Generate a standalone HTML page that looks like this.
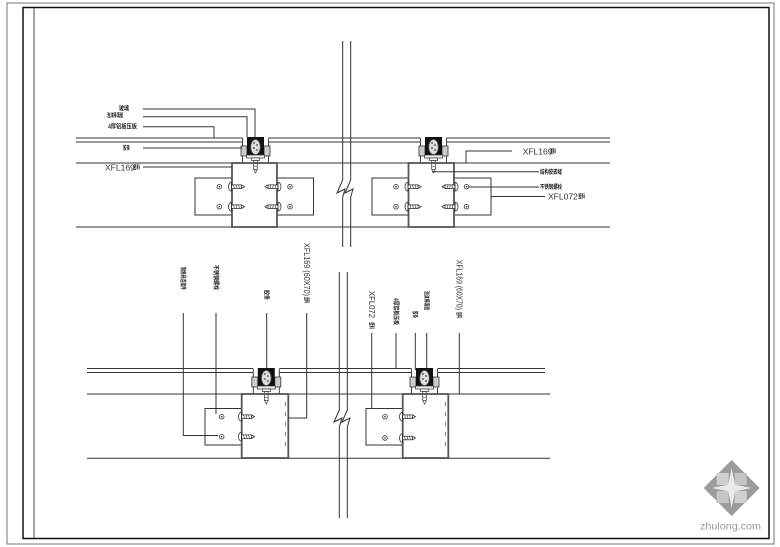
<!DOCTYPE html>
<html><head><meta charset="utf-8"><style>
html,body{margin:0;padding:0;background:#fff;}
svg{display:block;}
.l{stroke:#333;stroke-width:1;fill:none;}
.cn{font-family:"Liberation Sans","Noto Sans CJK SC",sans-serif;font-size:6px;font-weight:bold;fill:#222;}
.en{font-family:"Liberation Sans","Noto Sans CJK SC",sans-serif;font-size:8.5px;fill:#333;}
</style></head><body>
<svg width="780" height="547" viewBox="0 0 780 547" xmlns="http://www.w3.org/2000/svg">
<defs>
<g id="gk">
 <rect x="-13" y="0" width="26" height="26" fill="#fff"/>
 <line x1="-13" y1="1" x2="-13" y2="26" stroke="#444" stroke-width="1"/>
 <line x1="13" y1="1" x2="13" y2="26" stroke="#444" stroke-width="1"/>
 <rect x="-14.5" y="9" width="6" height="10" fill="#ccc" stroke="#333" stroke-width="0.8"/>
 <rect x="8.5" y="9" width="6" height="10" fill="#ccc" stroke="#333" stroke-width="0.8"/>
 <path d="M-8.5,0 H8.5 V18 H-8.5 Z" fill="#111"/>
 <ellipse cx="0" cy="10" rx="4.8" ry="7.5" fill="#ddd" stroke="#555" stroke-width="0.8"/>
 <circle cx="-1.5" cy="6" r="1" fill="#666"/><circle cx="1.5" cy="8" r="1" fill="#666"/>
 <circle cx="-1.5" cy="11" r="1" fill="#666"/><circle cx="1.5" cy="13" r="1" fill="#666"/>
 <rect x="-9" y="18" width="18" height="3" fill="#eee" stroke="#333" stroke-width="0.7"/>
 <rect x="-4" y="21" width="8" height="2.5" fill="#fff" stroke="#333" stroke-width="0.7"/>
 <rect x="-1.8" y="23.5" width="3.6" height="9" fill="#fff" stroke="#333" stroke-width="0.7"/>
 <path d="M-1.8,32.5 L0,36 L1.8,32.5" fill="none" stroke="#333" stroke-width="0.7"/>
 <line x1="-1.8" y1="26" x2="1.8" y2="27" stroke="#333" stroke-width="0.6"/>
 <line x1="-1.8" y1="29" x2="1.8" y2="30" stroke="#333" stroke-width="0.6"/>
</g>
<g id="bolt">
 <rect x="1" y="-1.8" width="10" height="3.6" fill="#fff" stroke="#333" stroke-width="0.8"/>
 <line x1="3" y1="-1.8" x2="4" y2="1.8" stroke="#333" stroke-width="0.6"/>
 <line x1="5.5" y1="-1.8" x2="6.5" y2="1.8" stroke="#333" stroke-width="0.6"/>
 <line x1="8" y1="-1.8" x2="9" y2="1.8" stroke="#333" stroke-width="0.6"/>
 <path d="M11,-1.8 L14,0 L11,1.8" fill="none" stroke="#333" stroke-width="0.8"/>
 <path d="M1,-4.5 A3,4.5 0 0 0 1,4.5 Z" fill="#fff" stroke="#333" stroke-width="0.8"/>
 <line x1="1" y1="-4.5" x2="1" y2="4.5" stroke="#333" stroke-width="1"/>
</g>
<g id="dot"><circle r="2.3" fill="#fff" stroke="#333" stroke-width="0.8"/><circle r="0.8" fill="#333"/></g>
</defs>

<!-- frame -->
<rect x="7" y="3" width="767" height="541" fill="none" stroke="#777" stroke-width="1"/>
<rect x="23" y="7.5" width="746" height="531" fill="none" stroke="#111" stroke-width="1.5"/>
<line x1="34" y1="8" x2="34" y2="538" stroke="#666" stroke-width="1.2"/>

<!-- top horizontal lines -->
<line class="l" x1="76" y1="138" x2="610" y2="138"/>
<line class="l" x1="76" y1="142" x2="610" y2="142"/>
<line class="l" x1="76" y1="163" x2="610" y2="163"/>
<line class="l" x1="76" y1="227" x2="610" y2="227"/>

<!-- top break lines -->
<path class="l" d="M342.7,41 V180 L337,193 L345,189 L342.7,197 V247"/>
<path class="l" d="M350.7,41 V180 L345,193 L353,189 L350.7,197 V247"/>

<!-- bottom horizontal lines -->
<line class="l" x1="87" y1="368.5" x2="545" y2="368.5"/>
<line class="l" x1="87" y1="372.5" x2="545" y2="372.5"/>
<line class="l" x1="87" y1="394" x2="550" y2="394"/>
<line class="l" x1="87" y1="458.3" x2="550" y2="458.3"/>

<!-- bottom break lines -->
<path class="l" d="M339.3,272 V410 L334,422 L342,418 L339.3,427 V518"/>
<path class="l" d="M347.3,272 V410 L342,422 L350,418 L347.3,427 V518"/>

<!-- ===== TOP LEFT ===== -->
<rect x="195" y="178" width="37" height="37" fill="#fff" stroke="#333"/>
<rect x="277" y="178" width="36.5" height="37" fill="#fff" stroke="#333"/>
<use href="#gk" transform="translate(255.5,137)"/>
<rect x="232" y="163" width="45" height="64" fill="none" stroke="#555" stroke-width="1.8"/>
<use href="#bolt" transform="translate(230.5,186.7)"/>
<use href="#bolt" transform="translate(230.5,206.7)"/>
<use href="#bolt" transform="translate(279,186.7) scale(-1,1)"/>
<use href="#bolt" transform="translate(279,206.7) scale(-1,1)"/>
<use href="#dot" transform="translate(219.3,186.7)"/>
<use href="#dot" transform="translate(219.3,206.7)"/>
<use href="#dot" transform="translate(290,186.7)"/>
<use href="#dot" transform="translate(290,206.7)"/>
<!-- leaders -->
<path class="l" d="M143,109 H255 V137"/>
<path class="l" d="M143,116.7 H247 V137"/>
<path class="l" d="M143,126.7 H214 V138"/>
<path class="l" d="M143,148 H242"/>
<path class="l" d="M143,167 H232"/>
<text class="cn" x="119" y="110.5" textLength="10" lengthAdjust="spacingAndGlyphs">玻璃</text>
<text class="cn" x="107" y="117.5" textLength="16" lengthAdjust="spacingAndGlyphs">泡沫棒填缝</text>
<text class="cn" x="108" y="128.5" textLength="29" lengthAdjust="spacingAndGlyphs">4厚铝板压板</text>
<text class="cn" x="123" y="150" textLength="7" lengthAdjust="spacingAndGlyphs">胶条</text>
<text class="en" x="105" y="170.5">XFL169</text>
<text class="cn" x="133" y="169.5" textLength="7" lengthAdjust="spacingAndGlyphs">竖料</text>

<!-- ===== TOP RIGHT ===== -->
<rect x="372" y="178" width="36.5" height="37" fill="#fff" stroke="#333"/>
<rect x="454" y="178" width="37" height="37" fill="#fff" stroke="#333"/>
<use href="#gk" transform="translate(433.5,137)"/>
<rect x="408.5" y="163" width="45.5" height="64" fill="none" stroke="#555" stroke-width="1.8"/>
<use href="#bolt" transform="translate(407,186.7)"/>
<use href="#bolt" transform="translate(407,206.7)"/>
<use href="#bolt" transform="translate(456,186.7) scale(-1,1)"/>
<use href="#bolt" transform="translate(456,206.7) scale(-1,1)"/>
<use href="#dot" transform="translate(396,186.7)"/>
<use href="#dot" transform="translate(396,206.7)"/>
<use href="#dot" transform="translate(466.5,186.7)"/>
<use href="#dot" transform="translate(466.5,206.7)"/>
<path class="l" d="M466,163 V151 H512"/>
<path class="l" d="M432,171.7 H539"/>
<path class="l" d="M469,187 H539"/>
<path class="l" d="M491,196.5 H545"/>
<text class="en" x="522.7" y="154.5">XFL169</text>
<text class="cn" x="550" y="153.5" textLength="6" lengthAdjust="spacingAndGlyphs">竖料</text>
<text class="cn" x="540" y="173.8" textLength="22" lengthAdjust="spacingAndGlyphs">结构胶嵌缝</text>
<text class="cn" x="540" y="189.2" textLength="22" lengthAdjust="spacingAndGlyphs">不锈钢螺栓</text>
<text class="en" x="548" y="199.5">XFL072</text>
<text class="cn" x="578" y="198.5" textLength="7" lengthAdjust="spacingAndGlyphs">竖料</text>

<!-- ===== BOTTOM LEFT ===== -->
<rect x="205" y="408.5" width="36.7" height="36.5" fill="#fff" stroke="#333"/>
<use href="#gk" transform="translate(266.3,368)"/>
<rect x="241.7" y="394" width="46.6" height="64" fill="none" stroke="#555" stroke-width="1.8"/>
<line x1="285.5" y1="402" x2="285.5" y2="452" stroke="#666" stroke-width="0.8" stroke-dasharray="4,6"/>
<use href="#bolt" transform="translate(240.5,416.7)"/>
<use href="#bolt" transform="translate(240.5,436.7)"/>
<use href="#dot" transform="translate(221.7,416.7)"/>
<use href="#dot" transform="translate(221.7,436.7)"/>
<path class="l" d="M183.3,313 V435.5 H218"/>
<path class="l" d="M216,313 V414"/>
<path class="l" d="M266.7,313 V368"/>
<path class="l" d="M306.7,313 V418 H288.3"/>
<text class="cn" transform="translate(181.2,267) rotate(90)" textLength="23" lengthAdjust="spacingAndGlyphs">钢角码连接件</text>
<text class="cn" transform="translate(213.9,265) rotate(90)" textLength="25" lengthAdjust="spacingAndGlyphs">不锈钢螺栓</text>
<text class="cn" transform="translate(264.6,290) rotate(90)" textLength="10" lengthAdjust="spacingAndGlyphs">胶条</text>
<text class="en" transform="translate(303.8,243) rotate(90)" textLength="53" lengthAdjust="spacingAndGlyphs">XFL169 (60X70)</text>
<text class="cn" transform="translate(304.6,297) rotate(90)" textLength="6" lengthAdjust="spacingAndGlyphs">竖料</text>

<!-- ===== BOTTOM RIGHT ===== -->
<rect x="366" y="408.5" width="36.7" height="36.5" fill="#fff" stroke="#333"/>
<use href="#gk" transform="translate(424.5,368)"/>
<rect x="402.7" y="394" width="45.6" height="64" fill="none" stroke="#555" stroke-width="1.8"/>
<line x1="445.5" y1="402" x2="445.5" y2="452" stroke="#666" stroke-width="0.8" stroke-dasharray="4,6"/>
<use href="#bolt" transform="translate(401.5,416.7)"/>
<use href="#bolt" transform="translate(401.5,438)"/>
<use href="#dot" transform="translate(385,416.7)"/>
<use href="#dot" transform="translate(385,438)"/>
<path class="l" d="M371.7,333 V408.5"/>
<path class="l" d="M396,333 V368.5"/>
<path class="l" d="M415.3,333 V370"/>
<path class="l" d="M426.7,333 V368"/>
<path class="l" d="M459.3,333 V394"/>
<text class="en" transform="translate(368.8,291) rotate(90)" textLength="27" lengthAdjust="spacingAndGlyphs">XFL072</text>
<text class="cn" transform="translate(369.6,322) rotate(90)" textLength="7" lengthAdjust="spacingAndGlyphs">竖料</text>
<text class="cn" transform="translate(393.9,298) rotate(90)" textLength="27" lengthAdjust="spacingAndGlyphs">4厚铝板压板</text>
<text class="cn" transform="translate(413.2,311) rotate(90)" textLength="7" lengthAdjust="spacingAndGlyphs">胶条</text>
<text class="cn" transform="translate(424.6,291) rotate(90)" textLength="19" lengthAdjust="spacingAndGlyphs">泡沫棒填缝</text>
<text class="en" transform="translate(456.4,260) rotate(90)" textLength="50" lengthAdjust="spacingAndGlyphs">XFL169 (60X70)</text>
<text class="cn" transform="translate(457.2,312) rotate(90)" textLength="6" lengthAdjust="spacingAndGlyphs">竖料</text>

<!-- watermark -->
<g transform="translate(731.7,488)" opacity="0.85">
 <path d="M0,-28 L28,0 L0,28 L-28,0 Z" fill="#8a8a8a"/>
 <rect x="-15" y="-15" width="12" height="12" fill="#c8c8c8"/>
 <rect x="3" y="-15" width="12" height="12" fill="#bcbcbc"/>
 <rect x="-15" y="3" width="12" height="12" fill="#bcbcbc"/>
 <rect x="3" y="3" width="12" height="12" fill="#c8c8c8"/>
 <path d="M0,-20 L4,0 L0,20 L-4,0 Z M-20,0 L0,-4 L20,0 L0,4 Z" fill="#e8e8e8"/>
</g>
<text x="700" y="529.5" font-family="Liberation Sans, sans-serif" font-size="10.5" fill="#999" textLength="61" lengthAdjust="spacingAndGlyphs">zhulong.com</text>
</svg>
</body></html>
